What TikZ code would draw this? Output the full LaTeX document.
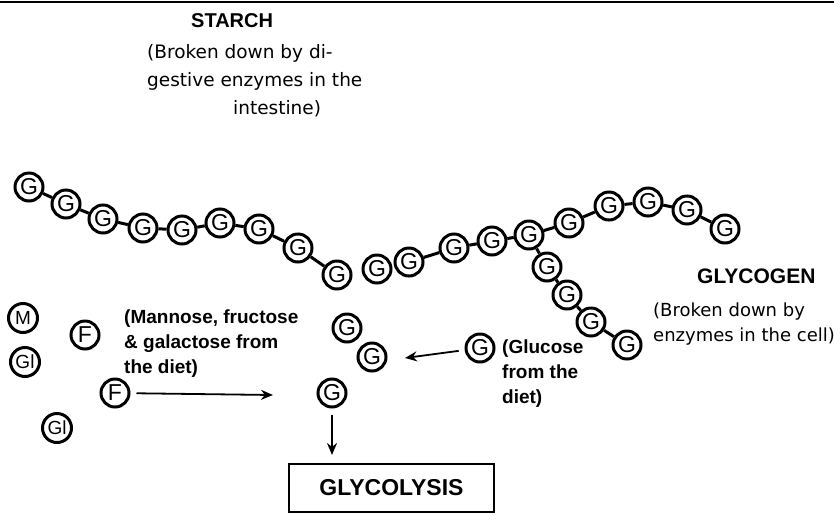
\documentclass[tikz,border=0pt]{standalone}
\usepackage{fontspec}
\setmainfont{DejaVu Sans}
\newfontfamily\arial{Liberation Sans}
\usetikzlibrary{positioning}
\usetikzlibrary{arrows.meta}
\tikzset{unit/.style = {draw, circle, line width = 3pt, inner sep = 0, minimum size = 28pt, font = \arial\fontsize{23}{23}\selectfont}}
\tikzset{wide/.style = {unit, minimum size = 29pt, font = \arial\fontsize{19}{19}\selectfont}}
\tikzset{bond/.style = {line width = 3pt}}
\tikzset{flow/.style = {line width = 1.8pt, -{Stealth[length = 12pt, width = 10pt]}, shorten < = 6pt}}
\tikzset{head/.style = {anchor = base west, inner sep = 0, font = \arial\bfseries\fontsize{20}{20}\selectfont}}
\tikzset{note/.style = {anchor = north west, inner sep = 0, align = left, font = \fontsize{18.5}{28}\selectfont}}
\tikzset{bnote/.style = {anchor = north west, inner sep = 0, align = left, font = \arial\bfseries\fontsize{19}{25}\selectfont}}

\begin{document}
\begin{tikzpicture}[x = 1pt, y = -1pt]
    \useasboundingbox (0,0) rectangle (840,515);
    \draw[line width = 2.6pt] (0,2) -- (834,2);
    % starch chain
    \foreach \n/\x/\y in {1/29/187, 2/66/204, 3/103/219, 4/143/228, 5/182/230, 6/220/223, 7/259/229, 8/298/248, 9/337/275} {
        \node[unit] (s\n) at (\x,\y) {G};
    }
    \foreach \a/\b in {1/2, 2/3, 3/4, 4/5, 5/6, 6/7, 7/8, 8/9} {
        \draw[bond] (s\a) -- (s\b);
    }
    \node[unit] (lone) at (377,269) {G};
    % glycogen chain and its branch
    \foreach \n/\x/\y in {1/409/262, 2/454/248, 3/492/241, 4/529/235, 5/569/223, 6/609/206, 7/648/202, 8/687/210, 9/725/229} {
        \node[unit] (g\n) at (\x,\y) {G};
    }
    \foreach \n/\x/\y in {1/547/267, 2/567/295, 3/591/322, 4/627/345} {
        \node[unit] (b\n) at (\x,\y) {G};
    }
    \foreach \a/\b in {g1/g2, g2/g3, g3/g4, g4/g5, g5/g6, g6/g7, g7/g8, g8/g9, g4/b1, b1/b2, b2/b3, b3/b4} {
        \draw[bond] (\a) -- (\b);
    }
    % sugars from the diet
    \node[wide] (m) at (23,318) {M};
    \node[unit] (f1) at (85,335) {F};
    \node[wide] (gl1) at (25,362) {Gl};
    \node[unit] (f2) at (115,393) {F};
    \node[wide] (gl2) at (57,428) {Gl};
    % free glucose
    \node[unit] (c1) at (347,328) {G};
    \node[unit] (c2) at (372,357) {G};
    \node[unit] (c3) at (332,393) {G};
    \node[unit] (gd) at (480,348) {G};
    % labels
    \node[head] (starch) at (191,27) {STARCH};
    \node[note] (starchnote) at (147,44) {(Broken down by di-\\gestive enzymes in the\\\hspace*{86pt}intestine)};
    \node[bnote] (dietnote) at (124,310) {(Mannose, fructose\\\& galactose from\\the diet)};
    \node[bnote] (glunote) at (502,340) {(Glucose\\from the\\diet)};
    \node[head, font = \arial\bfseries\fontsize{21}{21}\selectfont] (glycogen) at (697,283) {GLYCOGEN};
    \node[note, font = \fontsize{18}{25}\selectfont] (glynote) at (653,303) {(Broken down by\\enzymes in the cell)};
    \node[draw, line width = 2pt, minimum width = 205pt, minimum height = 48pt, inner sep = 0, font = \arial\bfseries\fontsize{23}{23}\selectfont] (glycolysis) at (391.5,488) {GLYCOLYSIS};
    % arrows
    \coordinate (fend) at (273,395);
    \coordinate (gdend) at (405,358);
    \draw[flow] (f2) -- (fend);
    \draw[flow] (gd) -- (gdend);
    \draw[flow, shorten > = 8pt] (c3) -- (c3 |- glycolysis.north);
\end{tikzpicture}
\end{document}
